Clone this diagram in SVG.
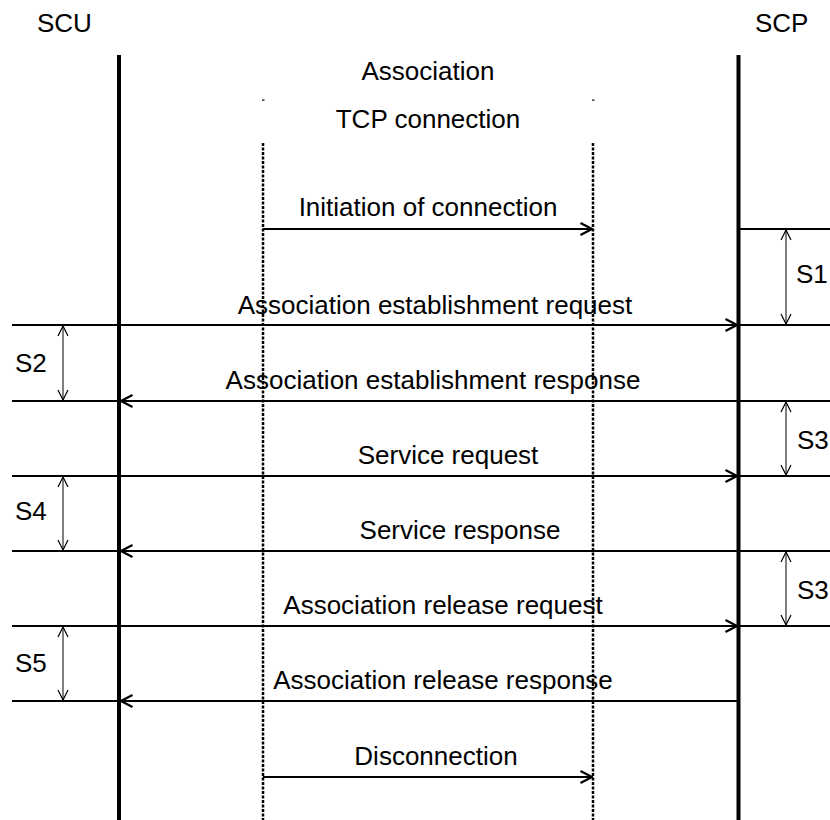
<svg xmlns="http://www.w3.org/2000/svg" width="830" height="820" viewBox="0 0 830 820">
<style>
text{font-family:"Liberation Sans",Arial,sans-serif;font-size:26px;fill:#000}
.c{text-anchor:middle}
.life{stroke:#000;stroke-width:4}
.dot{stroke:#000;stroke-width:2.5;stroke-dasharray:3 1.5}
.msg{stroke:#000;stroke-width:2;fill:none}
.ext{stroke:#000;stroke-width:2}
.dim{stroke:#000;stroke-width:1;fill:none}
</style>
<defs>
<marker id="ah" viewBox="0 0 14 14" refX="13" refY="7" markerWidth="14" markerHeight="14" markerUnits="userSpaceOnUse" orient="auto">
<path d="M1.5,1 L13,7 L1.5,13" fill="none" stroke="#000" stroke-width="2.2"/>
</marker>
<marker id="dh" viewBox="0 0 12 12" refX="11" refY="6" markerWidth="12" markerHeight="12" markerUnits="userSpaceOnUse" orient="auto-start-reverse">
<path d="M1,1 L11,6 L1,11" fill="none" stroke="#000" stroke-width="1.2"/>
</marker>
</defs>
<g id="scu">
<text x="37" y="32">SCU</text>
<line class="life" x1="119" y1="55" x2="119" y2="820"/>
</g>
<g id="scp">
<text x="755" y="32">SCP</text>
<line class="life" x1="738.5" y1="55" x2="738.5" y2="820"/>
</g>
<g id="association">
<text class="c" x="428" y="80">Association</text>
</g>
<g id="tcp">
<text class="c" x="428" y="128">TCP connection</text>
<rect x="262" y="99.5" width="2.5" height="1.2" fill="#000"/>
<rect x="592" y="99.5" width="2.5" height="1.2" fill="#000"/>
<line class="dot" x1="263" y1="143" x2="263" y2="820"/>
<line class="dot" x1="593" y1="143" x2="593" y2="820"/>
</g>
<g id="connectors">
<line class="msg" x1="263" y1="229" x2="592" y2="229" marker-end="url(#ah)"/>
<line class="msg" x1="120" y1="325" x2="737" y2="325" marker-end="url(#ah)"/>
<line class="msg" x1="738" y1="401" x2="121" y2="401" marker-end="url(#ah)"/>
<line class="msg" x1="120" y1="476" x2="737" y2="476" marker-end="url(#ah)"/>
<line class="msg" x1="738" y1="551" x2="121" y2="551" marker-end="url(#ah)"/>
<line class="msg" x1="120" y1="626" x2="737" y2="626" marker-end="url(#ah)"/>
<line class="msg" x1="738" y1="701" x2="121" y2="701" marker-end="url(#ah)"/>
<line class="msg" x1="263" y1="777" x2="592" y2="777" marker-end="url(#ah)"/>
<line class="ext" x1="740" y1="229" x2="830" y2="229" stroke="#555"/>
<line class="ext" x1="740" y1="325" x2="830" y2="325"/>
<line class="ext" x1="740" y1="401" x2="830" y2="401"/>
<line class="ext" x1="740" y1="476" x2="830" y2="476"/>
<line class="ext" x1="740" y1="551" x2="830" y2="551"/>
<line class="ext" x1="740" y1="626" x2="830" y2="626"/>
<line class="ext" x1="12" y1="325" x2="118" y2="325"/>
<line class="ext" x1="12" y1="401" x2="118" y2="401"/>
<line class="ext" x1="12" y1="476" x2="118" y2="476"/>
<line class="ext" x1="12" y1="551" x2="118" y2="551"/>
<line class="ext" x1="12" y1="626" x2="118" y2="626"/>
<line class="ext" x1="12" y1="701" x2="118" y2="701"/>
<line class="dim" x1="786" y1="230" x2="786" y2="324" marker-start="url(#dh)" marker-end="url(#dh)"/>
<line class="dim" x1="63" y1="326" x2="63" y2="400" marker-start="url(#dh)" marker-end="url(#dh)"/>
<line class="dim" x1="786" y1="402" x2="786" y2="475" marker-start="url(#dh)" marker-end="url(#dh)"/>
<line class="dim" x1="63" y1="477" x2="63" y2="550" marker-start="url(#dh)" marker-end="url(#dh)"/>
<line class="dim" x1="786" y1="552" x2="786" y2="625" marker-start="url(#dh)" marker-end="url(#dh)"/>
<line class="dim" x1="63" y1="627" x2="63" y2="700" marker-start="url(#dh)" marker-end="url(#dh)"/>
</g>
<g id="labels">
<text class="c" x="428" y="216">Initiation of connection</text>
<text class="c" x="435" y="314">Association establishment request</text>
<text class="c" x="433" y="389">Association establishment response</text>
<text class="c" x="448" y="464">Service request</text>
<text class="c" x="460" y="539">Service response</text>
<text class="c" x="443" y="614">Association release request</text>
<text class="c" x="443" y="689">Association release response</text>
<text class="c" x="436" y="765">Disconnection</text>
<text x="796" y="283">S1</text>
<text x="15" y="372">S2</text>
<text x="797" y="449">S3</text>
<text x="15" y="520">S4</text>
<text x="797" y="599">S3</text>
<text x="15" y="672">S5</text>
</g>
</svg>
